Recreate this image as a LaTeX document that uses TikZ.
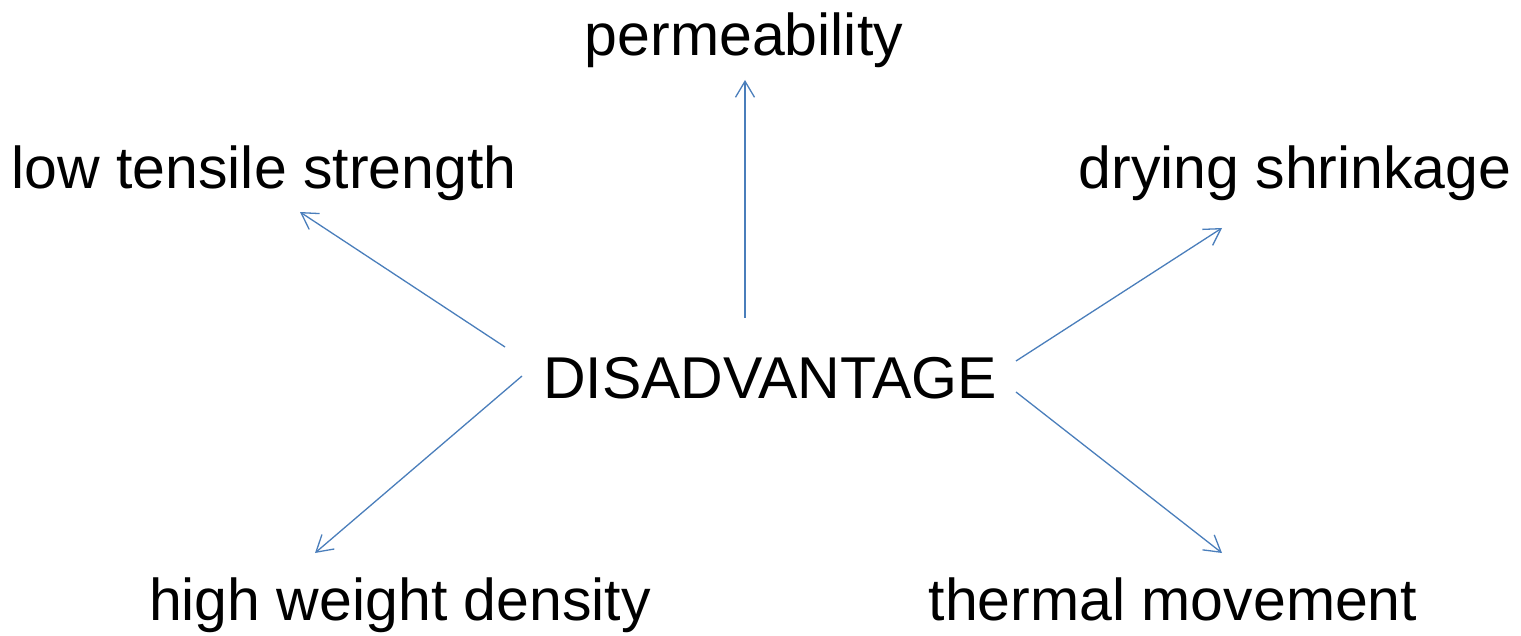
\documentclass[tikz,border=0pt]{standalone}
\usepackage{fontspec}
\setmainfont{Liberation Sans}
\usetikzlibrary{arrows.meta}
\definecolor{linkblue}{HTML}{4A7EBB}
\tikzset{
  label text/.style={anchor=base, inner sep=0pt, font=\fontsize{59}{61}\selectfont},
  link/.style={draw=linkblue, line width=1.3pt, -{Straight Barb[length=16pt,width=19pt,line width=1.3pt]}}
}
\begin{document}
\begin{tikzpicture}[x=1pt,y=-1pt]
  \useasboundingbox (0,0) rectangle (1521,636);
  % labels
  \node[label text] (center) at (770,398) {DISADVANTAGE};
  \node[label text] (perm)   at (744,56)  {permeability};
  \node[label text] (tensile) at (264,189) {low tensile strength};
  \node[label text] (drying) at (1295,189) {drying shrinkage};
  \node[label text] (weight) at (400,620) {high weight density};
  \node[label text] (thermal) at (1173,620) {thermal movement};
  % arrow end points
  \coordinate (p0) at (745,318);  \coordinate (p1) at (745,80);
  \coordinate (t0) at (505,347);  \coordinate (t1) at (300,212);
  \coordinate (d0) at (1016,361); \coordinate (d1) at (1222,228);
  \coordinate (w0) at (522,376);  \coordinate (w1) at (315,553);
  \coordinate (m0) at (1016,392); \coordinate (m1) at (1222,553);
  % connectors
  \draw[link] (p0) -- (p1);
  \draw[link] (t0) -- (t1);
  \draw[link] (d0) -- (d1);
  \draw[link] (w0) -- (w1);
  \draw[link] (m0) -- (m1);
\end{tikzpicture}
\end{document}
